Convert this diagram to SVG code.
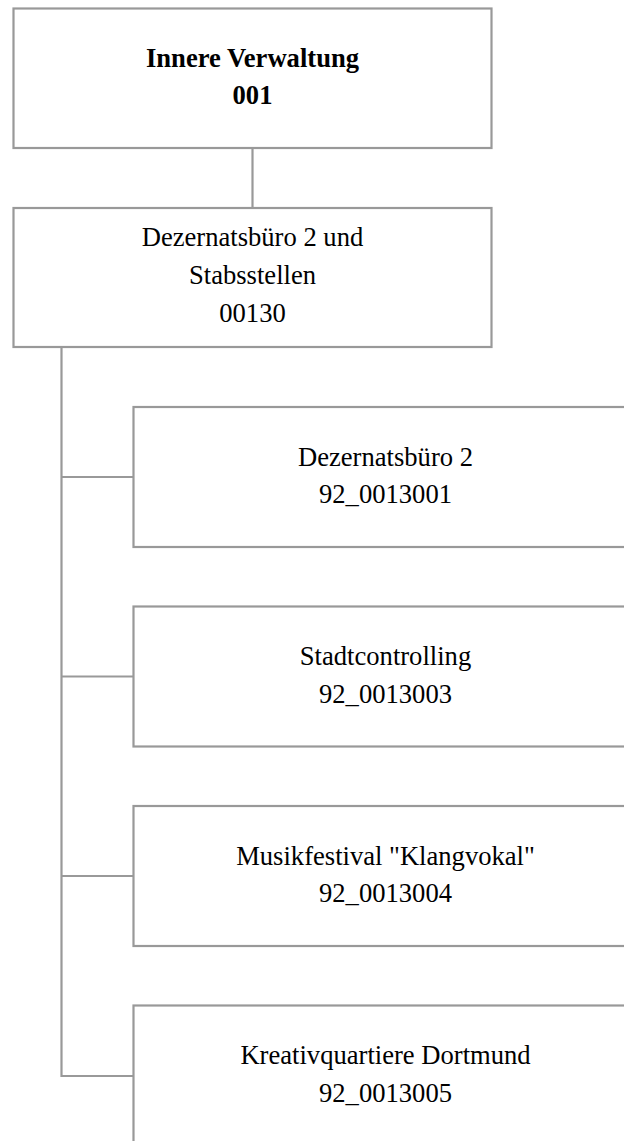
<svg xmlns="http://www.w3.org/2000/svg" width="624" height="1141" viewBox="0 0 624 1141">
<style>
.box{fill:#ffffff;stroke:#999999;stroke-width:2.2}
.conn{fill:none;stroke:#999999;stroke-width:2.2}
text{font-family:"Liberation Serif","Times New Roman",serif;font-size:26.6px;fill:#000000;text-anchor:middle}
.b{font-weight:bold}
</style>
<rect width="624" height="1141" fill="#ffffff"/>
<g id="connectors">
<line class="conn" x1="252.5" y1="148" x2="252.5" y2="208"/>
<polyline class="conn" points="61.5,347 61.5,1076 133.5,1076"/>
<line class="conn" x1="61.5" y1="477" x2="133.5" y2="477"/>
<line class="conn" x1="61.5" y1="676.5" x2="133.5" y2="676.5"/>
<line class="conn" x1="61.5" y1="876" x2="133.5" y2="876"/>
</g>
<g id="node-001">
<rect class="box" x="13.5" y="8.5" width="478" height="139.5"/>
<text class="b" x="252.5" y="67">Innere Verwaltung</text>
<text class="b" x="252.5" y="104">001</text>
</g>
<g id="node-00130">
<rect class="box" x="13.5" y="208" width="478" height="139"/>
<text x="252.5" y="246">Dezernatsbüro 2 und</text>
<text x="252.5" y="284">Stabsstellen</text>
<text x="252.5" y="321.5">00130</text>
</g>
<g id="node-92_0013001">
<rect class="box" x="133.5" y="407" width="505" height="140"/>
<text x="385.5" y="465.5">Dezernatsbüro 2</text>
<text x="385.5" y="503">92_0013001</text>
</g>
<g id="node-92_0013003">
<rect class="box" x="133.5" y="606.5" width="505" height="140"/>
<text x="385.5" y="665">Stadtcontrolling</text>
<text x="385.5" y="702.5">92_0013003</text>
</g>
<g id="node-92_0013004">
<rect class="box" x="133.5" y="806" width="505" height="140"/>
<text x="385.5" y="864.5">Musikfestival "Klangvokal"</text>
<text x="385.5" y="902">92_0013004</text>
</g>
<g id="node-92_0013005">
<rect class="box" x="133.5" y="1005.5" width="505" height="140"/>
<text x="385.5" y="1063.5">Kreativquartiere Dortmund</text>
<text x="385.5" y="1101.5">92_0013005</text>
</g>
</svg>
